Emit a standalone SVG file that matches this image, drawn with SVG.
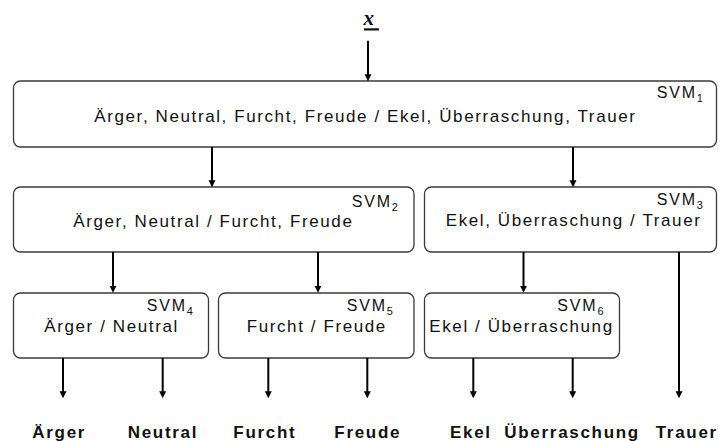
<svg xmlns="http://www.w3.org/2000/svg" width="718" height="441" viewBox="0 0 718 441">
<style>
.box{fill:#fff;stroke:#3a3a3a;stroke-width:1.3}
.t{font-family:"Liberation Sans",Arial,sans-serif;font-size:17px;letter-spacing:1.6px;fill:#111}
.s{font-family:"Liberation Sans",Arial,sans-serif;font-size:16px;letter-spacing:1.8px;fill:#111}
.sub{font-size:11px;letter-spacing:0}
.lbl{font-family:"Liberation Sans",Arial,sans-serif;font-size:17px;font-weight:bold;letter-spacing:1.7px;fill:#111}
.c{stroke:#000;stroke-width:2;fill:none;marker-end:url(#ah)}
</style>
<defs>
<marker id="ah" viewBox="0 0 10 10" refX="1" refY="5" markerUnits="userSpaceOnUse" markerWidth="7" markerHeight="11" orient="auto">
<path d="M0,0 L10,5 L0,10 z" fill="#000"/>
</marker>
</defs>
<rect width="718" height="441" fill="#fff"/>
<g id="input">
<text x="363.5" y="25" style="font-family:'Liberation Serif','Times New Roman',serif;font-size:21px;font-style:italic;font-weight:bold;fill:#111">x</text>
<rect x="364" y="28.3" width="15" height="2.2" fill="#111"/>
</g>
<g id="svm1">
<rect class="box" x="13.5" y="81" width="703" height="66" rx="7"/>
<text class="t" x="94.3" y="121.7">Ärger, Neutral, Furcht, Freude / Ekel, Überraschung, Trauer</text>
<text class="s" x="656.7" y="98.3">SVM<tspan class="sub" dy="4">1</tspan></text>
</g>
<g id="svm2">
<rect class="box" x="13.5" y="187" width="400.5" height="65" rx="7"/>
<text class="t" x="73.3" y="226.5">Ärger, Neutral / Furcht, Freude</text>
<text class="s" x="351.7" y="207">SVM<tspan class="sub" dy="4">2</tspan></text>
</g>
<g id="svm3">
<rect class="box" x="424.5" y="187" width="292" height="65" rx="7"/>
<text class="t" x="445.7" y="225.5">Ekel, Überraschung / Trauer</text>
<text class="s" x="656.7" y="204.5">SVM<tspan class="sub" dy="4">3</tspan></text>
</g>
<g id="svm4">
<rect class="box" x="13.5" y="293" width="195" height="65" rx="7"/>
<text class="t" x="44.3" y="331.7">Ärger / Neutral</text>
<text class="s" x="146.7" y="310.7">SVM<tspan class="sub" dy="4">4</tspan></text>
</g>
<g id="svm5">
<rect class="box" x="218.5" y="293" width="195.5" height="65" rx="7"/>
<text class="t" x="246.7" y="331.7">Furcht / Freude</text>
<text class="s" x="346.7" y="310.7">SVM<tspan class="sub" dy="4">5</tspan></text>
</g>
<g id="svm6">
<rect class="box" x="424.5" y="293" width="195" height="65" rx="7"/>
<text class="t" x="429.3" y="331.7">Ekel / Überraschung</text>
<text class="s" x="557.3" y="310.7">SVM<tspan class="sub" dy="4">6</tspan></text>
</g>
<g id="labels">
<text class="lbl" x="32.3" y="438">Ärger</text>
<text class="lbl" x="127.7" y="438">Neutral</text>
<text class="lbl" x="233.3" y="438">Furcht</text>
<text class="lbl" x="334.3" y="438">Freude</text>
<text class="lbl" x="450" y="438">Ekel</text>
<text class="lbl" x="504.3" y="438">Überraschung</text>
<text class="lbl" x="655.7" y="438">Trauer</text>
</g>
<g id="connectors">
<line class="c" x1="368" y1="40.7" x2="368" y2="75"/>
<line class="c" x1="212" y1="147" x2="212" y2="181"/>
<line class="c" x1="573" y1="147" x2="573" y2="181"/>
<line class="c" x1="113" y1="252" x2="113" y2="286.5"/>
<line class="c" x1="318" y1="252" x2="318" y2="286.5"/>
<line class="c" x1="523.5" y1="252" x2="523.5" y2="286.5"/>
<line class="c" x1="679" y1="252" x2="679" y2="392"/>
<line class="c" x1="63" y1="358" x2="63" y2="392"/>
<line class="c" x1="162.7" y1="358" x2="162.7" y2="392"/>
<line class="c" x1="268.3" y1="358" x2="268.3" y2="392"/>
<line class="c" x1="367.3" y1="358" x2="367.3" y2="392"/>
<line class="c" x1="473.3" y1="358" x2="473.3" y2="392"/>
<line class="c" x1="572.7" y1="358" x2="572.7" y2="392"/>
</g>
</svg>
